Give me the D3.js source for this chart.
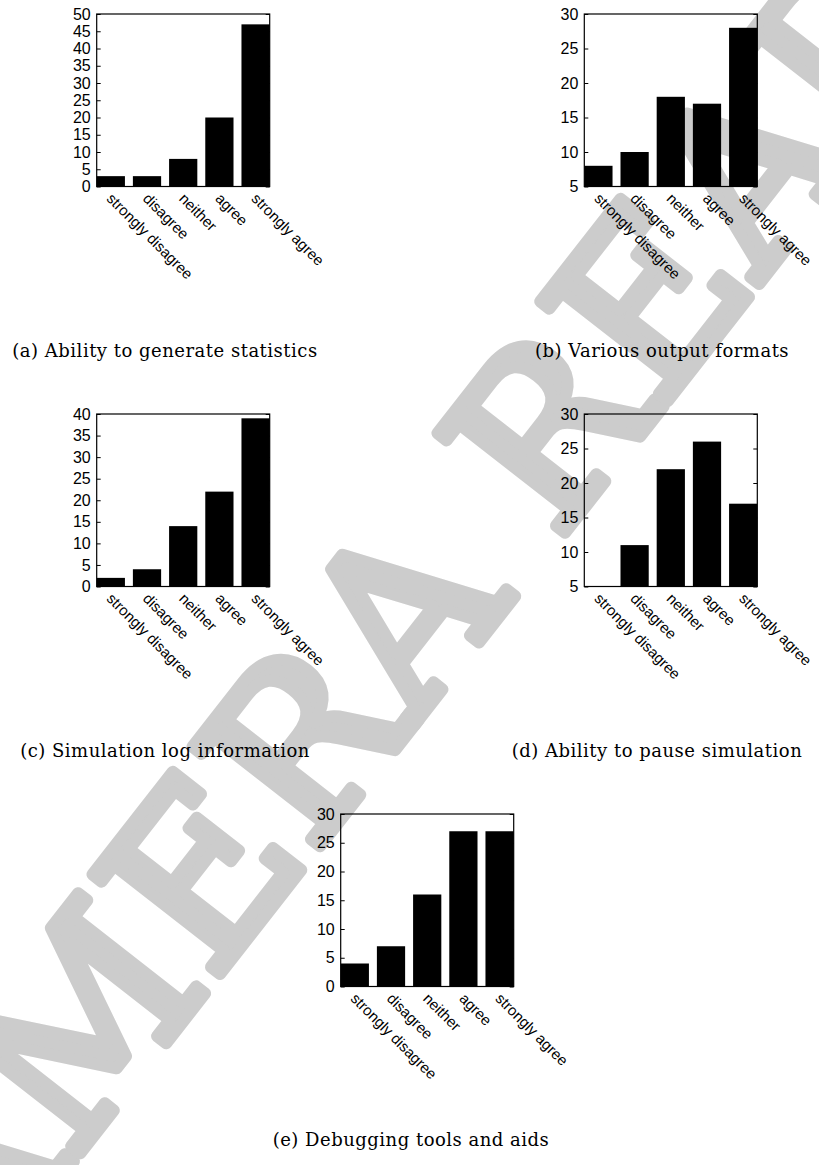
<!DOCTYPE html>
<html>
<head>
<meta charset="utf-8">
<script src="https://cdn.jsdelivr.net/npm/d3@7"></script>
<style>
  html, body { margin: 0; padding: 0; background: #fff; }
  svg { display: block; }
</style>
</head>
<body>
<svg id="fig" width="819" height="1165"></svg>
<script>
// Likert answer categories shared by every panel
const categories = ["strongly disagree", "disagree", "neither", "agree", "strongly agree"];

// Number of responses per category
const statsValues   = [3, 3, 8, 20, 47];
const formatsValues = [8, 10, 18, 17, 28];
const logValues     = [2, 4, 14, 22, 39];
const pauseValues   = [5, 11, 22, 26, 17];
const debugValues   = [4, 7, 16, 27, 27];

// Y-axis ranges
const statsDomain   = [0, 50];
const formatsDomain = [5, 30];
const logDomain     = [0, 40];
const pauseDomain   = [5, 30];
const debugDomain   = [0, 30];
const tickStep = 5;

// Sub-figure captions
const captions = [
  "(a) Ability to generate statistics",
  "(b) Various output formats",
  "(c) Simulation log information",
  "(d) Ability to pause simulation",
  "(e) Debugging tools and aids"
];

const watermarkText = "CAMERA READY";

// Page layout: plot frame and caption placement for each sub-figure
const layout = [
  { left: 96.7,  top: 14,  captionX: 165, captionY: 357 },
  { left: 584.3, top: 14,  captionX: 662, captionY: 357 },
  { left: 96.7,  top: 414, captionX: 165, captionY: 757 },
  { left: 584.3, top: 414, captionX: 657, captionY: 757 },
  { left: 340.7, top: 814, captionX: 411, captionY: 1146 }
];
const frameW = 173, frameH = 172.5;

const series  = [statsValues, formatsValues, logValues, pauseValues, debugValues];
const domains = [statsDomain, formatsDomain, logDomain, pauseDomain, debugDomain];

const svg = d3.select("#fig");

// Diagonal watermark behind everything
svg.append("text")
  .attr("transform", "translate(464,662) rotate(-52)")
  .attr("text-anchor", "middle")
  .attr("fill", "#cccccc")
  .attr("stroke", "#cccccc")
  .attr("stroke-width", 12)
  .attr("stroke-linejoin", "round")
  .style("font-family", "'DejaVu Serif', serif")
  .style("font-size", "222px")
  .text(watermarkText);

const sansFont = "'Liberation Sans', Arial, Helvetica, sans-serif";

series.forEach((values, i) => {
  const L = layout[i];
  const dom = domains[i];
  const g = svg.append("g");

  const x = d3.scaleBand()
    .domain(categories)
    .range([L.left, L.left + frameW])
    .paddingInner(0.22)
    .paddingOuter(0);

  const y = d3.scaleLinear()
    .domain(dom)
    .range([L.top + frameH, L.top]);

  const ticks = d3.range(dom[0], dom[1] + 0.001, tickStep);

  // Left axis: inward ticks with labels outside
  const yAxisL = g.append("g")
    .attr("transform", `translate(${L.left},0)`)
    .call(d3.axisLeft(y).tickValues(ticks).tickSize(-4).tickPadding(6).tickFormat(d3.format("d")));
  yAxisL.select(".domain").remove();
  yAxisL.selectAll("line").attr("stroke", "#000");
  yAxisL.selectAll("text")
    .attr("fill", "#000")
    .style("font-family", sansFont)
    .style("font-size", "16px");

  // Mirrored inward ticks on the right edge
  const yAxisR = g.append("g")
    .attr("transform", `translate(${L.left + frameW},0)`)
    .call(d3.axisRight(y).tickValues(ticks).tickSize(-4).tickFormat(""));
  yAxisR.select(".domain").remove();
  yAxisR.selectAll("line").attr("stroke", "#000");

  // Bars
  g.append("g")
    .selectAll("rect")
    .data(values)
    .join("rect")
    .attr("x", (d, j) => x(categories[j]))
    .attr("y", d => y(d))
    .attr("width", x.bandwidth())
    .attr("height", d => y(dom[0]) - y(d))
    .attr("fill", "#000");

  // Category labels, rotated down to the right
  const xAxis = g.append("g")
    .attr("transform", `translate(0,${L.top + frameH})`)
    .call(d3.axisBottom(x).tickSize(0));
  xAxis.select(".domain").remove();
  xAxis.selectAll("text")
    .attr("x", 0)
    .attr("y", 0)
    .attr("dy", 0)
    .attr("text-anchor", "start")
    .attr("transform", "translate(-5,13) rotate(45)")
    .attr("fill", "#000")
    .style("font-family", sansFont)
    .style("font-size", "15px");

  // Plot frame
  g.append("rect")
    .attr("x", L.left)
    .attr("y", L.top)
    .attr("width", frameW)
    .attr("height", frameH)
    .attr("fill", "none")
    .attr("stroke", "#000")
    .attr("stroke-width", 1.2);

  // Caption
  svg.append("text")
    .attr("x", L.captionX)
    .attr("y", L.captionY)
    .attr("text-anchor", "middle")
    .attr("fill", "#000")
    .style("font-family", "'DejaVu Serif', serif")
    .style("font-size", "18px")
    .style("letter-spacing", "0.5px")
    .text(captions[i]);
});
</script>
</body>
</html>
